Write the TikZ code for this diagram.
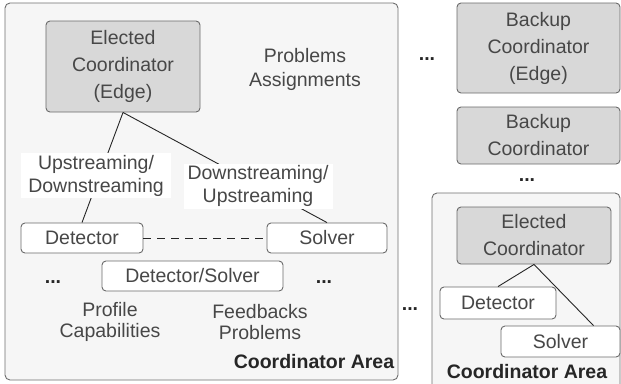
\documentclass[tikz,border=0pt]{standalone}
\usepackage{fontspec}
\setmainfont{Liberation Sans}
\usetikzlibrary{calc}
\definecolor{areabg}{HTML}{F6F6F6}
\definecolor{areaborder}{HTML}{6E6E6E}
\definecolor{boxgray}{HTML}{D8D8D8}
\definecolor{boxborder}{HTML}{6A6A6A}
\definecolor{txt}{HTML}{474747}
\tikzset{
  area/.style={draw=areaborder, fill=areabg, rounded corners=5bp, line width=0.9bp},
  graybox/.style={draw=boxborder, fill=boxgray, rounded corners=4bp, align=center, inner sep=0pt, line width=0.9bp},
  whitebox/.style={draw=boxborder, fill=white, rounded corners=4bp, align=center, inner sep=0pt, line width=0.9bp},
  lbl/.style={fill=white, align=center, inner sep=0pt},
  plain/.style={align=center, inner sep=0pt},
  dots/.style={inner sep=0pt, text=black!85, font=\fontsize{19.5bp}{24bp}\selectfont\bfseries},
  link/.style={draw=black!85, line width=0.9bp},
}
\begin{document}
\begin{tikzpicture}[x=1bp, y=-1bp, font=\fontsize{19.5bp}{27bp}\selectfont, text=txt]
\useasboundingbox (0,0) rectangle (621,383);
\clip (0,0) rectangle (621,383);
% areas
\draw[area] (5,3) rectangle (398,380);
\draw[area] (432,193) rectangle (620,400);

% left area
\node[graybox, minimum width=154bp, minimum height=91bp] (ec) at (123,66.5) {\raisebox{-2bp}{\parbox{150bp}{\centering Elected\\Coordinator\\(Edge)}}};
\node[plain, font=\fontsize{19.5bp}{24bp}\selectfont] (pa) at (305,69) {Problems\\Assignments};
\node[whitebox, minimum width=122bp, minimum height=30bp] (det) at (82,238) {Detector};
\node[whitebox, minimum width=120bp, minimum height=30bp] (sol) at (327,238) {Solver};
\node[whitebox, minimum width=181bp, minimum height=30bp] (ds) at (192.5,276) {Detector/Solver};

\draw[link] (ec.south) -- (det.north);
\draw[link] (ec.south) -- (sol.north);
\draw[link, dash pattern=on 8bp off 6bp] (det.east) -- (sol.west);

\node[lbl, minimum width=149bp, minimum height=45bp, font=\fontsize{19.5bp}{23bp}\selectfont] (ud) at (96,175.5) {Upstreaming/\\Downstreaming};
\node[lbl, minimum width=149bp, minimum height=45bp, font=\fontsize{19.5bp}{23bp}\selectfont] (du) at (258,186) {Downstreaming/\\Upstreaming};

\node[dots] (d1) at (53,282) {...};
\node[dots] (d2) at (324,282) {...};
\node[plain, font=\fontsize{19.5bp}{21bp}\selectfont] (pc) at (110,322) {Profile\\Capabilities};
\node[plain, font=\fontsize{19.5bp}{21bp}\selectfont] (fp) at (260,322) {Feedbacks\\Problems};
\node[plain, font=\fontsize{19.5bp}{24bp}\selectfont\bfseries, text=black!85] (ca1) at (314,362) {Coordinator Area};

% middle dots
\node[dots] (d3) at (410,309) {...};
\node[dots] (d4) at (427,59) {...};
\node[dots] (d5) at (527,180) {...};

% right side
\node[graybox, minimum width=163bp, minimum height=90bp] (bce) at (538.5,48) {\raisebox{-1bp}{\parbox{160bp}{\centering Backup\\Coordinator\\(Edge)}}};
\node[graybox, minimum width=163bp, minimum height=57bp] (bc) at (538.5,135.5) {Backup\\Coordinator};

\node[graybox, minimum width=154bp, minimum height=57bp] (rec) at (534,235.5) {Elected\\Coordinator};
\node[whitebox, minimum width=116bp, minimum height=32bp] (rdet) at (498,303) {Detector};
\node[whitebox, minimum width=119bp, minimum height=31bp] (rsol) at (560.5,341.5) {Solver};
\coordinate (rsolin) at ([xshift=33bp]rsol.north);
\draw[link] (rec.south) -- (rdet.north);
\draw[link] (rec.south) -- (rsolin);
\node[plain, font=\fontsize{19.5bp}{24bp}\selectfont\bfseries, text=black!85] (ca2) at (527,372) {Coordinator Area};
\end{tikzpicture}
\end{document}
